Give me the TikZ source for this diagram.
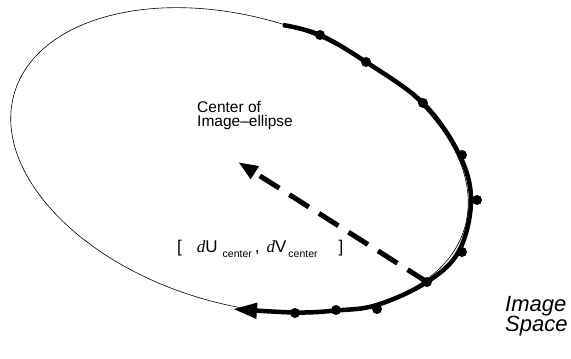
\documentclass[tikz,border=0pt]{standalone}
\usepackage{fontspec}
\setmainfont{Liberation Sans}
\newfontfamily\timesfont{Liberation Serif}
\usetikzlibrary{arrows.meta}
\tikzset{
  dot/.style={circle, fill=black, inner sep=0pt, minimum size=10pt},
  track/.style={line width=4.5pt, -{Triangle[length=24pt, width=15pt]}},
  shift vec/.style={line width=5pt, dash pattern=on 23pt off 12pt, -{Triangle[length=20pt, width=14pt]}},
  outline/.style={line width=0.6pt}
}
\newcommand{\subtxt}[1]{\raisebox{-5pt}{\fontsize{10.5}{12}\selectfont #1}}
\begin{document}
\begin{tikzpicture}[x=1pt, y=1pt]
  \useasboundingbox (0,0) rectangle (571,359);
  \coordinate (ctr) at (238,197);
  \coordinate (ectr) at (239.5,198.5);
  \draw[outline, rotate around={-16.8:(ectr)}] (ectr) ellipse [x radius=235pt, y radius=143pt];
  \draw[track] plot[smooth, tension=0.6] coordinates {(283,334) (320,324) (366,297) (423,256)
    (459,205) (471,159) (459,108) (427,77) (377,54) (336,48.5) (295,46.5) (233,50)};
  \foreach \n/\x/\y in {1/320/324, 2/366/297, 3/423/256, 4/462/204, 5/477/159,
                        6/462/107, 7/427/77, 8/377/50, 9/336/49, 10/295/46}
    \node[dot] (d\n) at (\x,\y) {};
  \draw[shift vec] (d7.center) -- (ctr);
  \node[anchor=base west, align=left, font=\fontsize{15.5}{14.5}\selectfont, inner sep=0pt]
    (ctrlabel) at (197,232) {Center of\\Image--ellipse};
  \node[anchor=base west, inner sep=0pt, font=\fontsize{17}{20}\selectfont] (vec) at (177,106)
    {[\hspace{15pt}{\timesfont\itshape d}U\hspace{5pt}\subtxt{center}\hspace{3pt},\hspace{7pt}{\timesfont\itshape d}V\hspace{2pt}\subtxt{center}\hspace{21pt}]};
  \node[anchor=base west, align=left, inner sep=0pt, font=\fontsize{22}{20}\selectfont\itshape]
    (space) at (505,27) {Image\\Space};
\end{tikzpicture}
\end{document}
